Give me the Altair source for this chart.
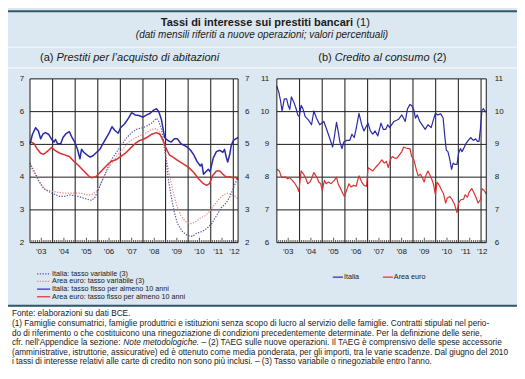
import altair as alt
import pandas as pd

# ---------------- data ----------------
# (a) mortgage rates, % ; (year as decimal, value)
IT_FISSO = [(2003.0,5.02),(2003.11,5.31),(2003.25,5.51),(2003.37,5.41),(2003.47,5.17),(2003.57,5.31),(2003.68,5.36),(2003.82,5.31),(2003.96,5.15),(2004.06,5.07),(2004.13,5.15),(2004.22,5.02),(2004.36,5.02),(2004.46,5.21),(2004.6,5.33),(2004.74,5.39),(2004.84,5.24),(2004.98,5.07),(2005.1,4.85),(2005.21,4.56),(2005.28,4.85),(2005.38,4.76),(2005.52,4.68),(2005.66,4.61),(2005.8,4.66),(2005.95,4.76),(2006.09,4.85),(2006.23,5.02),(2006.37,5.19),(2006.51,5.36),(2006.63,5.54),(2006.75,5.43),(2006.9,5.34),(2007.01,5.51),(2007.19,5.63),(2007.36,5.8),(2007.5,5.97),(2007.65,5.9),(2007.82,5.88),(2008.0,5.83),(2008.17,5.9),(2008.32,5.95),(2008.46,6.04),(2008.6,6.09),(2008.7,6.0),(2008.82,5.75),(2008.96,5.21),(2009.1,5.12),(2009.25,5.07),(2009.39,5.17),(2009.53,5.17),(2009.68,5.02),(2009.82,4.97),(2009.96,4.92),(2010.11,4.82),(2010.25,4.68),(2010.39,4.48),(2010.54,4.34),(2010.61,4.4),(2010.68,4.09),(2010.82,4.19),(2010.89,4.24),(2010.97,4.17),(2011.11,4.58),(2011.25,4.78),(2011.4,4.82),(2011.54,4.76),(2011.61,4.85),(2011.68,4.63),(2011.75,4.46),(2011.83,4.66),(2011.91,4.97),(2012.0,5.12),(2012.11,5.17),(2012.21,5.21)]
EA_FISSO = [(2003.0,5.09),(2003.18,5.02),(2003.33,4.85),(2003.47,4.73),(2003.61,4.7),(2003.79,4.8),(2003.96,4.91),(2004.1,4.82),(2004.32,4.73),(2004.53,4.68),(2004.74,4.63),(2004.95,4.48),(2005.17,4.34),(2005.38,4.19),(2005.59,4.04),(2005.73,3.98),(2005.92,4.01),(2006.16,4.19),(2006.37,4.34),(2006.58,4.48),(2006.8,4.53),(2007.01,4.63),(2007.22,4.73),(2007.43,4.87),(2007.65,5.02),(2007.86,5.12),(2008.0,5.15),(2008.17,5.21),(2008.39,5.31),(2008.6,5.36),(2008.75,5.31),(2008.89,5.12),(2009.03,4.87),(2009.17,4.68),(2009.39,4.58),(2009.6,4.48),(2009.82,4.39),(2010.03,4.29),(2010.25,4.14),(2010.46,3.95),(2010.68,3.8),(2010.82,3.75),(2010.94,3.8),(2011.08,4.04),(2011.25,4.19),(2011.4,4.19),(2011.54,4.09),(2011.68,4.0),(2011.83,4.01),(2011.97,3.98),(2012.11,4.0),(2012.21,3.92)]
IT_VAR = [(2003.0,4.43),(2003.18,4.19),(2003.4,3.88),(2003.61,3.65),(2003.82,3.56),(2004.03,3.49),(2004.32,3.41),(2004.53,3.41),(2004.74,3.46),(2005.03,3.43),(2005.24,3.39),(2005.52,3.33),(2005.73,3.29),(2005.88,3.39),(2006.02,3.6),(2006.23,3.95),(2006.44,4.29),(2006.65,4.58),(2006.87,4.8),(2007.08,5.02),(2007.29,5.21),(2007.5,5.36),(2007.72,5.46),(2008.0,5.51),(2008.17,5.56),(2008.39,5.65),(2008.6,5.8),(2008.7,5.7),(2008.82,5.46),(2008.93,5.07),(2009.03,4.48),(2009.13,3.9),(2009.25,3.41),(2009.39,2.92),(2009.53,2.58),(2009.75,2.34),(2009.96,2.22),(2010.18,2.19),(2010.39,2.29),(2010.61,2.34),(2010.82,2.43),(2011.04,2.58),(2011.25,2.82),(2011.47,3.07),(2011.68,3.21),(2011.85,3.41),(2012.0,3.65),(2012.11,3.85),(2012.21,4.0)]
EA_VAR = [(2003.0,4.35),(2003.18,4.14),(2003.4,3.85),(2003.61,3.65),(2003.82,3.59),(2004.03,3.56),(2004.32,3.53),(2004.53,3.51),(2004.74,3.51),(2005.03,3.51),(2005.24,3.51),(2005.52,3.46),(2005.73,3.46),(2005.92,3.56),(2006.09,3.75),(2006.3,4.04),(2006.51,4.31),(2006.73,4.53),(2006.94,4.73),(2007.15,4.89),(2007.36,5.07),(2007.58,5.17),(2007.79,5.24),(2008.0,5.31),(2008.17,5.36),(2008.39,5.46),(2008.6,5.48),(2008.75,5.36),(2008.89,5.07),(2009.03,4.58),(2009.17,4.09),(2009.32,3.6),(2009.5,3.12),(2009.68,2.82),(2009.89,2.65),(2010.11,2.58),(2010.32,2.63),(2010.54,2.75),(2010.75,2.82),(2010.97,2.97),(2011.18,3.17),(2011.4,3.36),(2011.57,3.46),(2011.75,3.51),(2011.94,3.46),(2012.11,3.41),(2012.21,3.33)]

# (b) consumer credit (TAEG), %
IT_CONS = [(2003.0,10.78),(2003.09,10.58),(2003.16,10.34),(2003.23,10.02),(2003.33,10.39),(2003.43,10.39),(2003.5,10.19),(2003.57,10.07),(2003.64,10.45),(2003.75,10.29),(2003.85,10.09),(2003.92,9.9),(2003.99,9.85),(2004.07,10.19),(2004.15,10.09),(2004.25,9.85),(2004.39,9.75),(2004.53,9.6),(2004.63,10.02),(2004.75,9.8),(2004.89,9.6),(2004.99,9.65),(2005.07,9.7),(2005.17,9.51),(2005.27,9.31),(2005.46,8.92),(2005.53,9.21),(2005.63,9.67),(2005.7,9.41),(2005.78,9.07),(2005.87,8.87),(2005.95,9.07),(2006.07,9.12),(2006.21,9.12),(2006.31,9.31),(2006.41,9.21),(2006.49,9.46),(2006.62,9.95),(2006.74,9.6),(2006.84,9.41),(2006.95,9.56),(2007.02,9.65),(2007.12,9.41),(2007.23,9.31),(2007.33,9.41),(2007.45,9.26),(2007.59,9.65),(2007.69,9.46),(2007.8,9.46),(2007.89,9.6),(2007.97,9.51),(2008.16,9.7),(2008.37,9.77),(2008.51,9.9),(2008.66,9.7),(2008.76,10.09),(2008.87,10.22),(2008.94,10.19),(2009.04,10.04),(2009.11,9.8),(2009.19,9.9),(2009.3,9.7),(2009.44,9.56),(2009.54,9.46),(2009.66,9.6),(2009.8,9.51),(2009.9,9.75),(2009.99,9.95),(2010.09,9.9),(2010.23,9.93),(2010.33,9.8),(2010.4,9.26),(2010.47,8.82),(2010.54,8.78),(2010.61,8.58),(2010.7,8.24),(2010.77,8.43),(2010.84,8.39),(2010.94,8.39),(2011.01,8.73),(2011.09,8.87),(2011.16,8.78),(2011.23,8.87),(2011.33,9.02),(2011.44,9.12),(2011.54,9.21),(2011.66,9.12),(2011.76,9.17),(2011.84,9.09),(2011.91,9.09),(2011.97,9.46),(2012.04,10.04),(2012.11,10.09),(2012.19,9.99),(2012.23,10.02)]
EA_CONS = [(2003.0,8.24),(2003.11,8.19),(2003.18,8.04),(2003.26,7.99),(2003.37,8.01),(2003.47,7.95),(2003.57,7.98),(2003.68,7.9),(2003.8,7.8),(2003.89,7.7),(2003.97,7.56),(2004.07,8.19),(2004.18,8.09),(2004.28,7.95),(2004.36,7.8),(2004.46,7.85),(2004.53,7.95),(2004.63,8.14),(2004.75,8.01),(2004.85,7.85),(2004.93,7.8),(2005.0,7.6),(2005.1,7.9),(2005.17,7.8),(2005.27,7.85),(2005.39,7.8),(2005.53,7.9),(2005.63,8.0),(2005.7,7.8),(2005.81,7.65),(2005.9,7.51),(2005.98,7.41),(2006.1,7.65),(2006.18,7.8),(2006.27,7.7),(2006.38,7.75),(2006.49,7.72),(2006.62,8.04),(2006.74,7.85),(2006.84,7.75),(2006.95,7.72),(2007.02,8.29),(2007.12,8.24),(2007.23,8.19),(2007.37,8.31),(2007.52,8.43),(2007.63,8.53),(2007.73,8.43),(2007.83,8.48),(2007.91,8.29),(2008.0,8.53),(2008.09,8.63),(2008.2,8.58),(2008.3,8.58),(2008.4,8.68),(2008.51,8.78),(2008.59,8.92),(2008.69,8.89),(2008.8,8.87),(2008.87,8.87),(2008.94,8.63),(2009.04,8.53),(2009.16,8.19),(2009.23,8.04),(2009.33,8.09),(2009.41,7.99),(2009.49,7.85),(2009.59,8.09),(2009.66,8.19),(2009.8,7.99),(2009.9,7.8),(2009.99,7.46),(2010.06,7.85),(2010.16,7.75),(2010.26,7.6),(2010.34,7.51),(2010.44,7.21),(2010.51,7.36),(2010.63,7.41),(2010.73,7.31),(2010.83,7.17),(2010.94,6.92),(2011.01,7.21),(2011.11,7.31),(2011.23,7.33),(2011.3,7.46),(2011.4,7.39),(2011.49,7.56),(2011.59,7.65),(2011.66,7.56),(2011.76,7.41),(2011.87,7.21),(2011.97,7.31),(2012.04,7.65),(2012.13,7.6),(2012.23,7.49)]

Y_TICKS_A = [2, 3, 4, 5, 6, 7]
Y_TICKS_B = [6, 7, 8, 9, 10, 11]
YEAR_LINES = [2004, 2005, 2006, 2007, 2008, 2009, 2010, 2011, 2012]
X_LABELS = ["'03", "'04", "'05", "'06", "'07", "'08", "'09", "'10", "'11", "'12"]
X_LABEL_POS = [2003.5, 2004.5, 2005.5, 2006.5, 2007.5, 2008.5, 2009.5, 2010.5, 2011.33, 2012.05]

TITLE = "Tassi di interesse sui prestiti bancari"
TITLE_NOTE = "(1)"
SUBTITLE = "(dati mensili riferiti a nuove operazioni; valori percentuali)"
PANEL_A = ["(a) ", "Prestiti per l’acquisto di abitazioni"]
PANEL_B = ["(b) ", "Credito al consumo", " (2)"]
LEGEND_A = ["Italia: tasso variabile (3)", "Area euro: tasso variabile (3)",
            "Italia: tasso fisso per almeno 10 anni", "Area euro: tasso fisso per almeno 10 anni"]
LEGEND_B = ["Italia", "Area euro"]
FOOT_1 = "Fonte: elaborazioni su dati BCE."
FOOT_2 = "(1) Famiglie consumatrici, famiglie produttrici e istituzioni senza scopo di lucro al servizio delle famiglie. Contratti stipulati nel perio-"
FOOT_3 = "do di riferimento o che costituicono una rinegoziazione di condizioni precedentemente determinate. Per la definizione delle serie,"
FOOT_4 = ["cfr. nell'Appendice la sezione: ", "Note metodologiche.",
          " – (2) TAEG sulle nuove operazioni. Il TAEG è comprensivo delle spese accessorie"]
FOOT_5 = "(amministrative, istruttorie, assicurative) ed è ottenuto come media ponderata, per gli importi, tra le varie scadenze. Dal giugno del 2010"
FOOT_6 = "i tassi di interesse relativi alle carte di credito non sono più inclusi. – (3) Tasso variabile o rinegoziabile entro l'anno."

# ---------------- layout helpers ----------------
W, H = 509, 363
SX, SY = W / 525.0, H / 379.0
def px(x): return x * SX
def py(y): return y * SY

FONT = "Liberation Sans"
BG = "#dbe7f1"
DARK = "#2f5868"
INK = "#1a1a1a"
BLUE = "#2a2aa8"
RED = "#d93232"
BLUE_DOT = "#5656ab"
RED_DOT = "#e38a8a"
GRID = "#1c1c1c"

# Arial / Liberation Sans advance widths (1/1000 em), used to chain text pieces
_AW = {" ": 278, "!": 278, "'": 191, "(": 333, ")": 333, ",": 278, "-": 333, ".": 278,
       ":": 278, ";": 278, "A": 667, "B": 667, "C": 722, "D": 722, "E": 667, "F": 611,
       "G": 778, "I": 278, "N": 722, "P": 667, "T": 611, "a": 556, "b": 556, "c": 500,
       "d": 556, "e": 556, "f": 278, "g": 556, "h": 556, "i": 222, "j": 222, "k": 500,
       "l": 222, "m": 833, "n": 556, "o": 556, "p": 556, "q": 556, "r": 333, "s": 500,
       "t": 278, "u": 556, "v": 500, "w": 722, "x": 500, "y": 500, "z": 500, "è": 556,
       "ù": 556, "à": 556, "–": 556, "’": 222}
def tw(s, size):
    return sum(_AW.get(c, 556) for c in s) / 1000.0 * size

def blank():
    return pd.DataFrame({"k": [0]})

def txt(t, x, y, size, align="left", weight="normal", style="normal", color=INK):
    # SVG drops leading blanks, so shift by their width instead
    lead = len(t) - len(t.lstrip(" "))
    if lead and align == "left":
        x += tw(" " * lead, size)
    t = t.strip(" ")
    return alt.Chart(pd.DataFrame({"t": [t]})).mark_text(
        align=align, baseline="middle", font=FONT, fontSize=size,
        fontWeight=weight, fontStyle=style, color=color
    ).encode(x=alt.value(x), y=alt.value(y), text="t:N")

def hrule(y, x0, x1, color, w, dash=None):
    kw = dict(color=color, strokeWidth=w)
    if dash:
        kw["strokeDash"] = dash
    return alt.Chart(blank()).mark_rule(**kw).encode(
        x=alt.value(x0), x2=alt.value(x1), y=alt.value(y))

def rect(x0, x1, y0, y1, **style):
    return alt.Chart(blank()).mark_rect(**style).encode(
        x=alt.value(x0), x2=alt.value(x1), y=alt.value(y0), y2=alt.value(y1))

TOP, BOT = 74, 245
FS_AX = 8.0

def panel(left, right, xend, yticks, series, lab_l, lab_r):
    ymin, ymax = yticks[0], yticks[-1]
    xs = alt.Scale(domain=[2003, xend], range=[px(left), px(right)], nice=False, zero=False)
    ys = alt.Scale(domain=[ymin, ymax], range=[py(BOT), py(TOP)], nice=False, zero=False)
    L = [rect(px(left), px(right), py(TOP), py(BOT), fill="white")]
    hg = pd.DataFrame({"v": yticks[1:-1]})
    L.append(alt.Chart(hg).mark_rule(color=GRID, strokeWidth=1).encode(
        y=alt.Y("v:Q", scale=ys, axis=None), x=alt.value(px(left)), x2=alt.value(px(right))))
    vg = pd.DataFrame({"yr": YEAR_LINES})
    L.append(alt.Chart(vg).mark_rule(color="#2a2a2a", strokeWidth=1.1).encode(
        x=alt.X("yr:Q", scale=xs, axis=None), y=alt.value(py(TOP)), y2=alt.value(py(BOT))))
    # small monthly ticks along the bottom edge
    months = [m for m in range(1, 111) if 2003 + m / 12 < xend]
    mt = pd.DataFrame({"yr": [2003 + m / 12 for m in months],
                       "b": [ymin] * len(months),
                       "t": [ymin + (0.15 if m % 12 == 6 else 0.08) for m in months]})
    L.append(alt.Chart(mt).mark_rule(color="#333333", strokeWidth=0.8).encode(
        x=alt.X("yr:Q", scale=xs, axis=None), y=alt.Y("b:Q", scale=ys, axis=None), y2="t:Q"))
    for pts, color, dash, w in series:
        df = pd.DataFrame(pts, columns=["yr", "v"])
        mk = dict(color=color, strokeWidth=w, strokeJoin="round")
        if dash:
            mk["strokeDash"] = dash
        L.append(alt.Chart(df).mark_line(**mk).encode(
            x=alt.X("yr:Q", scale=xs, axis=None), y=alt.Y("v:Q", scale=ys, axis=None)))
    L.append(rect(px(left), px(right), py(TOP), py(BOT), fillOpacity=0, stroke=GRID, strokeWidth=1))
    yl = pd.DataFrame({"v": yticks, "lab": [str(v) for v in yticks]})
    L.append(alt.Chart(yl).mark_text(align="right", baseline="middle", font=FONT, fontSize=FS_AX, color=INK).encode(
        y=alt.Y("v:Q", scale=ys, axis=None), x=alt.value(px(lab_l)), text="lab:N"))
    L.append(alt.Chart(yl).mark_text(align="left", baseline="middle", font=FONT, fontSize=FS_AX, color=INK).encode(
        y=alt.Y("v:Q", scale=ys, axis=None), x=alt.value(px(lab_r)), text="lab:N"))
    xl = pd.DataFrame({"yr": X_LABEL_POS, "lab": X_LABELS})
    L.append(alt.Chart(xl).mark_text(align="center", baseline="middle", font=FONT, fontSize=FS_AX, color=INK).encode(
        x=alt.X("yr:Q", scale=xs, axis=None), y=alt.value(py(255)), text="lab:N"))
    return L

layers = []
# bands and separators
layers.append(rect(0, W, py(312), H, fill="white"))
layers.append(hrule(py(3.5), 0, W, DARK, 2))
layers.append(hrule(py(41), 0, W, "#f5f9fc", 1.2))
layers.append(hrule(py(62.5), 0, W, "#f5f9fc", 1.2))
layers.append(hrule(py(311), 0, W, DARK, 2))

# titles
FS_T = 11.0
layers.append(txt(TITLE, px(356), py(15.5), FS_T, align="right", weight="bold"))
layers.append(txt(TITLE_NOTE, px(356) + 3.2, py(15.5), FS_T))
layers.append(txt(SUBTITLE, px(262), py(28.5), 10.0, align="center", style="italic"))
FS_P = 11.0
xa = px(33)
layers.append(txt(PANEL_A[0], xa, py(52), FS_P))
layers.append(txt(PANEL_A[1], xa + tw(PANEL_A[0], FS_P), py(52), FS_P, style="italic"))
xb = px(320)
layers.append(txt(PANEL_B[0], xb, py(52), FS_P))
xb2 = xb + tw(PANEL_B[0], FS_P)
layers.append(txt(PANEL_B[1], xb2, py(52), FS_P, style="italic"))
layers.append(txt(PANEL_B[2], xb2 + tw(PANEL_B[1], FS_P) + 0.5, py(52), FS_P))

# panels
layers += panel(22.7, 237.3, 2012.21, Y_TICKS_A,
                [(EA_VAR, RED_DOT, [1.3, 1.4], 1.2), (IT_VAR, BLUE_DOT, [1.3, 1.4], 1.2),
                 (EA_FISSO, RED, None, 1.5), (IT_FISSO, BLUE, None, 1.5)],
                16.8, 244.5)
layers += panel(277.3, 493.3, 2012.23, Y_TICKS_B,
                [(EA_CONS, RED, None, 1.2), (IT_CONS, BLUE, None, 1.2)],
                269.5, 502.0)

# legend (a)
FS_L = 7.2
LEG_Y = [277.5, 285.5, 293.5, 301.5]
leg_style = [(BLUE_DOT, [1.3, 1.4]), (RED_DOT, [1.3, 1.4]), (BLUE, None), (RED, None)]
for lab, yy, (c, d) in zip(LEGEND_A, LEG_Y, leg_style):
    layers.append(hrule(py(yy), px(30), px(43.5), c, 1.2, d))
    layers.append(txt(lab, px(45.5), py(yy), FS_L))
# legend (b)
layers.append(hrule(py(281), px(335), px(345.5), BLUE, 1.2))
layers.append(txt(LEGEND_B[0], px(346.5), py(281), FS_L))
layers.append(hrule(py(281), px(386.7), px(397), RED, 1.2))
layers.append(txt(LEGEND_B[1], px(398), py(281), FS_L))

# footnotes: size chosen so the longest full line spans the text block
x_f0, x_f1 = px(4), px(521)
longest = max(tw(s, 1.0) for s in [FOOT_2, FOOT_3, "".join(FOOT_4), FOOT_5])
FS_F = round((x_f1 - x_f0) / longest * 0.99, 2)
FOOT_Y = [320, 330, 340, 350, 360, 370]
for line, yy in zip([FOOT_1, FOOT_2, FOOT_3, None, FOOT_5, FOOT_6], FOOT_Y):
    if line is not None:
        layers.append(txt(line, x_f0, py(yy), FS_F))
xf = x_f0
for i, piece in enumerate(FOOT_4):
    layers.append(txt(piece, xf, py(FOOT_Y[3]), FS_F, style="italic" if i == 1 else "normal"))
    xf += tw(piece, FS_F)

chart = alt.layer(*layers).resolve_scale(x="independent", y="independent").properties(
    width=W, height=H, padding=0, background=BG,
    autosize=alt.AutoSizeParams(type="none"),
).configure_view(strokeOpacity=0)

chart.save("out.html", embed_options={"renderer": "svg", "actions": False})
